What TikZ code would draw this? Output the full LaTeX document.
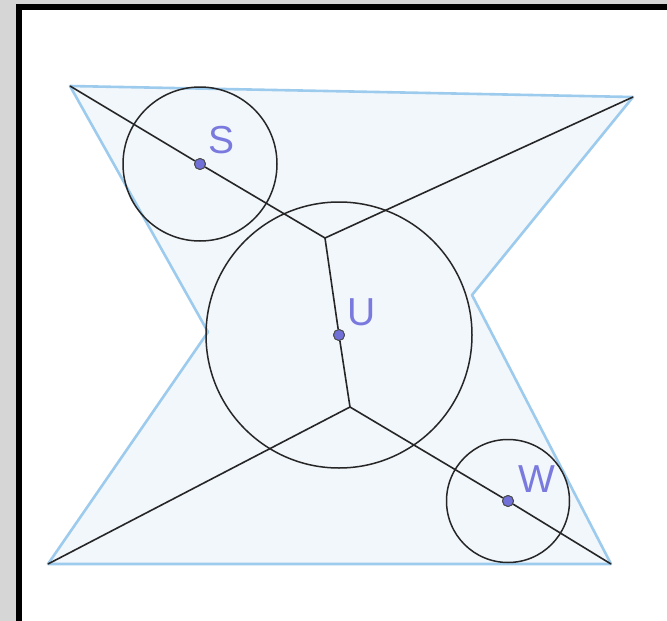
\documentclass[tikz,border=0pt]{standalone}
\usepackage{fontspec}
\setmainfont{Liberation Sans}
\definecolor{frameback}{HTML}{D6D6D6}
\definecolor{polyline}{HTML}{9DCBEE}
\definecolor{polyfill}{HTML}{F2F7FC}
\definecolor{ptfill}{HTML}{7070D8}
\definecolor{ptlabel}{HTML}{7A7ADE}
\tikzset{
  seg/.style={black!85, line width=1.6pt},
  ring/.style={black!85, line width=1.5pt},
  pt/.style={circle, fill=ptfill, draw=black!70, line width=0.9pt, inner sep=0pt, minimum size=11pt},
  ptname/.style={text=ptlabel, font=\fontsize{39}{41}\selectfont, inner sep=0pt}
}
\begin{document}
\begin{tikzpicture}[x=1pt,y=-1pt]
\useasboundingbox (0,0) rectangle (667,621);
\clip (0,0) rectangle (667,621);
\fill[frameback] (0,0) rectangle (667,621);
\draw[line width=6.5pt, fill=white] (19,7) rectangle (672,630);

% hexagon
\coordinate (A) at (70,86);
\coordinate (B) at (633,97);
\coordinate (C) at (472,295);
\coordinate (D) at (611,564);
\coordinate (E) at (48,564);
\coordinate (F) at (208,332);
\draw[polyline, fill=polyfill, line width=2.6pt, line join=round] (A) -- (B) -- (C) -- (D) -- (E) -- (F) -- cycle;

% junctions
\coordinate (J1) at (325,238);
\coordinate (J2) at (350,407);

% circles
\node[pt] (S) at (200,164) {};
\node[pt] (U) at (339,335) {};
\node[pt] (W) at (508,501) {};
\draw[ring] (S.center) circle (77);
\draw[ring] (U.center) circle (133);
\draw[ring] (W.center) circle (61.5);

\draw[seg] (A) -- (S) -- (J1) -- (B);
\draw[seg] (J1) -- (U) -- (J2) -- (E);
\draw[seg] (J2) -- (W) -- (D);
\node[pt] at (S) {};
\node[pt] at (U) {};
\node[pt] at (W) {};

\node[ptname] (Slbl) at (222,140) {S};
\node[ptname] (Ulbl) at (362,312) {U};
\node[ptname] (Wlbl) at (537,479) {W};
\end{tikzpicture}
\end{document}
